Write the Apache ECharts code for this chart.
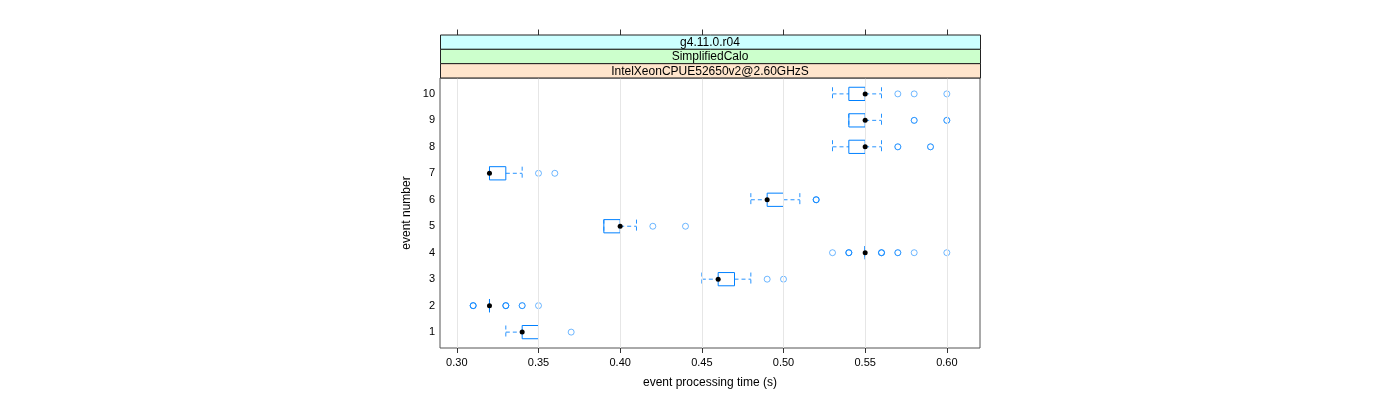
<!DOCTYPE html>
<html>
<head>
<meta charset="utf-8">
<script src="https://cdn.jsdelivr.net/npm/echarts@6/dist/echarts.min.js"></script>
<style>html,body{margin:0;padding:0;background:#fff;}#c{width:1400px;height:400px;}</style>
</head>
<body>
<div id="c"></div>
<script>
// ---- data ----
var events = [1, 2, 3, 4, 5, 6, 7, 8, 9, 10];
var boxMin = [0.33, 0.32, 0.45, 0.55, 0.39, 0.48, 0.32, 0.53, 0.54, 0.53];
var boxQ1  = [0.34, 0.32, 0.46, 0.55, 0.39, 0.49, 0.32, 0.54, 0.54, 0.54];
var boxMed = [0.34, 0.32, 0.46, 0.55, 0.40, 0.49, 0.32, 0.55, 0.55, 0.55];
var boxQ3  = [0.35, 0.32, 0.47, 0.55, 0.40, 0.50, 0.33, 0.55, 0.55, 0.55];
var boxMax = [0.35, 0.32, 0.48, 0.55, 0.41, 0.51, 0.34, 0.56, 0.56, 0.56];
// outliers per event (repeated values = overlapping points)
var outliers = [
  [0.37],
  [0.31, 0.31, 0.31, 0.33, 0.33, 0.33, 0.34, 0.34, 0.35],
  [0.49, 0.50],
  [0.53, 0.54, 0.54, 0.54, 0.56, 0.56, 0.56, 0.57, 0.57, 0.58, 0.60],
  [0.42, 0.44],
  [0.52, 0.52, 0.52],
  [0.35, 0.36],
  [0.57, 0.57, 0.59, 0.59],
  [0.58, 0.58, 0.60, 0.60],
  [0.57, 0.58, 0.60]
];
var xTickValues = [0.30, 0.35, 0.40, 0.45, 0.50, 0.55, 0.60];
var xTickLabels = ['0.30', '0.35', '0.40', '0.45', '0.50', '0.55', '0.60'];
var yTickLabels = ['1', '2', '3', '4', '5', '6', '7', '8', '9', '10'];
var stripLabels = ['g4.11.0.r04', 'SimplifiedCalo', 'IntelXeonCPUE52650v2@2.60GHzS'];
var xTitle = 'event processing time (s)';
var yTitle = 'event number';

// ---- layout / style ----
var FONT = "'Liberation Sans', Arial, sans-serif";
var BLUE = '#0080ff';
var GL = 440, GR = 980, GT = 78, GB = 348, STRIP_TOP = 35, STRIP_H = 14.33;
var stripColors = ['#ccffff', '#ccffcc', '#ffe5cc'];
var XMIN = 0.2897, XMAX = 0.6203;

var boxData = events.map(function (e, i) {
  return [e, boxMin[i], boxQ1[i], boxMed[i], boxQ3[i], boxMax[i]];
});
var medData = events.map(function (e, i) { return [boxMed[i], e]; });
var outData = [];
events.forEach(function (e, i) {
  outliers[i].forEach(function (v) { outData.push([v, e]); });
});

function renderBox(params, api) {
  var ev = api.value(0);
  var pMin = api.coord([api.value(1), ev]);
  var pQ1 = api.coord([api.value(2), ev]);
  var pQ3 = api.coord([api.value(4), ev]);
  var pMax = api.coord([api.value(5), ev]);
  var unit = api.size([0, 1])[1];
  var h = unit * 0.5;
  var cy = pQ1[1];
  var dashStyle = { stroke: BLUE, lineWidth: 1, lineDash: [4, 3], fill: null, opacity: 0.85 };
  var children = [
    { type: 'line', shape: { x1: pMin[0], y1: cy, x2: pQ1[0], y2: cy }, style: dashStyle },
    { type: 'line', shape: { x1: pQ3[0], y1: cy, x2: pMax[0], y2: cy }, style: dashStyle },
    { type: 'line', shape: { x1: pMin[0], y1: cy - h / 2, x2: pMin[0], y2: cy + h / 2 }, style: dashStyle },
    { type: 'line', shape: { x1: pMax[0], y1: cy - h / 2, x2: pMax[0], y2: cy + h / 2 }, style: dashStyle },
    { type: 'rect', shape: { x: pQ1[0], y: cy - h / 2, width: pQ3[0] - pQ1[0], height: h },
      style: { stroke: BLUE, lineWidth: 1, fill: null } }
  ];
  return { type: 'group', children: children };
}

var graphics = [];
stripLabels.forEach(function (t, i) {
  graphics.push({
    type: 'rect', silent: true, z: 10,
    shape: { x: GL + 0.5, y: STRIP_TOP + i * STRIP_H, width: GR - GL, height: STRIP_H },
    style: { fill: stripColors[i], stroke: '#222', lineWidth: 1 }
  });
  graphics.push({
    type: 'text', silent: true, z: 11,
    x: (GL + GR) / 2, y: STRIP_TOP + i * STRIP_H + STRIP_H / 2 + 0.5,
    style: { text: t, fill: '#000', font: '12px ' + FONT, align: 'center', verticalAlign: 'middle' }
  });
});

var chart = echarts.init(document.getElementById('c'), null, { renderer: 'canvas' });
chart.setOption({
  animation: false,
  backgroundColor: '#ffffff',
  textStyle: { fontFamily: FONT },
  grid: { left: GL, right: 1400 - GR, top: GT, bottom: 400 - GB, show: true,
          borderColor: '#555', borderWidth: 1, backgroundColor: 'transparent' },
  graphic: graphics,
  xAxis: [{
    type: 'value', min: XMIN, max: XMAX, position: 'bottom',
    name: xTitle, nameLocation: 'middle', nameGap: 29,
    nameTextStyle: { fontSize: 12, color: '#000', fontFamily: FONT },
    axisLine: { show: false },
    axisTick: { show: true, length: 5, customValues: xTickValues, lineStyle: { color: '#333' } },
    axisLabel: { show: true, customValues: xTickValues, margin: 9, fontSize: 11, color: '#000',
      formatter: function (v) {
        for (var i = 0; i < xTickValues.length; i++) if (Math.abs(xTickValues[i] - v) < 1e-9) return xTickLabels[i];
        return '';
      } },
    splitLine: { show: false }
  }, {
    type: 'value', min: XMIN, max: XMAX, position: 'top', offset: GT - STRIP_TOP,
    axisLine: { show: false },
    axisTick: { show: true, length: 5.5, customValues: xTickValues, lineStyle: { color: '#333' } },
    axisLabel: { show: false },
    splitLine: { show: false }
  }],
  yAxis: {
    type: 'value', min: 0.4, max: 10.6,
    name: yTitle, nameLocation: 'middle', nameGap: 27,
    nameTextStyle: { fontSize: 12, color: '#000', fontFamily: FONT },
    axisLine: { show: false }, axisTick: { show: false }, splitLine: { show: false },
    axisLabel: { show: true, customValues: events, margin: 5, fontSize: 11, color: '#000',
      formatter: function (v) { var i = events.indexOf(Math.round(v)); return i >= 0 ? yTickLabels[i] : ''; } }
  },
  series: [{
    type: 'scatter', data: [], silent: true, z: 1,
    markLine: {
      silent: true, symbol: ['none', 'none'], label: { show: false },
      lineStyle: { color: '#e6e6e6', width: 1, type: 'solid' },
      data: xTickValues.map(function (v) { return { xAxis: v }; })
    }
  }, {
    type: 'custom', renderItem: renderBox, data: boxData, z: 3, silent: true,
    encode: { x: [1, 2, 3, 4, 5], y: 0 }
  }, {
    type: 'scatter', data: outData, symbol: 'circle', symbolSize: 6, z: 4, silent: true,
    itemStyle: { color: 'rgba(0,0,0,0)', borderColor: 'rgba(0,128,255,0.7)', borderWidth: 1 }
  }, {
    type: 'scatter', data: medData, symbol: 'circle', symbolSize: 5, z: 5, silent: true,
    itemStyle: { color: '#000', opacity: 1 }
  }]
});
</script>
</body>
</html>
